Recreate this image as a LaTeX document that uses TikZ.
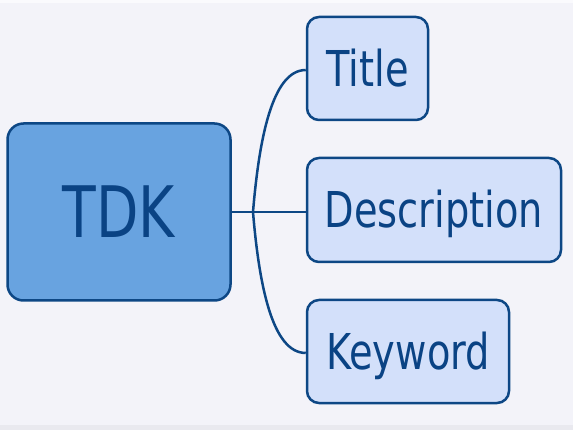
\documentclass[tikz,border=0pt]{standalone}
\usepackage{fontspec}
\setmainfont{DejaVu Sans}
\definecolor{bg}{HTML}{F3F3F9}
\definecolor{edge}{HTML}{0D4785}
\definecolor{txt}{HTML}{0A4384}
\definecolor{mainfill}{HTML}{68A3E0}
\definecolor{subfill}{HTML}{D3E0FA}
\tikzset{
  mainbox/.style={draw=edge, line width=2.5pt, fill=mainfill, rounded corners=16pt,
    inner sep=0pt, text=txt, text height=52pt, text depth=0pt,
    font=\fontsize{71}{71}\selectfont},
  subbox/.style={draw=edge, line width=2.5pt, fill=subfill, rounded corners=12pt,
    inner sep=0pt, text=txt, text height=36pt, text depth=0pt,
    font=\fontsize{49.4}{49.4}\selectfont},
  link/.style={draw=edge, line width=2.5pt}
}
\newcommand{\sq}[1]{\scalebox{0.776}[1]{#1}}
\begin{document}
\begin{tikzpicture}[x=1pt,y=-1pt]
\fill[bg] (0,0) rectangle (573,430);
\fill[white!60!bg] (0,0) rectangle (573,3);
\fill[black!4!bg] (0,425) rectangle (573,430);
\useasboundingbox (0,0) rectangle (573,430);
\node[mainbox, minimum width=223pt, minimum height=177pt] (tdk) at (119,212) {\sq{TDK}};
\node[subbox, minimum width=121pt, minimum height=103pt] (title) at (367.5,68.5) {\sq{Title}};
\node[subbox, minimum width=254pt, minimum height=104pt] (desc) at (434,210) {\sq{Description}};
\node[subbox, minimum width=202pt, minimum height=103pt] (kw) at (408,351.5) {\sq{Keyword}};
\coordinate (br) at (253,212);
\draw[link] (tdk.east |- br) -- (br);
\draw[link] (br) -- (desc.west |- br);
\draw[link] (br) .. controls (259,140) and (272,70) .. (title.west |- 0,70);
\draw[link] (br) .. controls (259,284) and (272,353) .. (kw.west |- 0,353);
\end{tikzpicture}
\end{document}
